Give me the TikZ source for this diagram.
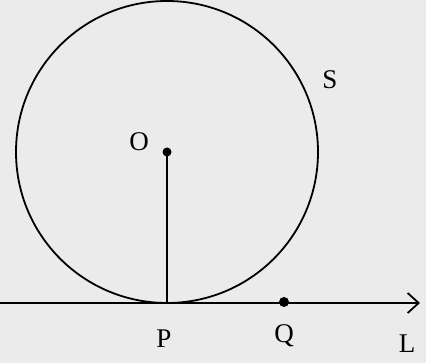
\documentclass[tikz,border=0pt]{standalone}
\usepackage{fontspec}
\setmainfont{Liberation Serif}
\usetikzlibrary{arrows.meta}
\begin{document}
\begin{tikzpicture}[x=1pt,y=-1pt,line width=1.8pt,
  lbl/.style={font=\fontsize{27}{30}\selectfont,inner sep=0pt},
  dotpt/.style={circle,fill=black,inner sep=0pt,minimum size=9pt}]
\useasboundingbox (0,0) rectangle (426,363);
\fill[black!8] (0,0) rectangle (426,363);
\coordinate (Ocen) at (167,152);
\node[dotpt] (O) at (Ocen) {};
\coordinate (P) at (167,303);
\coordinate (Lstart) at (0,303);
\coordinate (Lend) at (420,303);
\node[dotpt,minimum size=10pt] (Q) at (284,302) {};
\draw (Ocen) circle[radius=151];
\draw (O.center) -- (P);
\draw[-{Straight Barb[length=11pt,width=20pt,line width=1.8pt]}] (Lstart) -- (Lend);
\node[lbl] (Olab) at (139,142) {O};
\node[lbl] (Slab) at (330,80) {S};
\node[lbl] (Plab) at (164,339) {P};
\node[lbl] (Qlab) at (284,336) {Q};
\node[lbl] (Llab) at (407,344) {L};
\end{tikzpicture}
\end{document}
